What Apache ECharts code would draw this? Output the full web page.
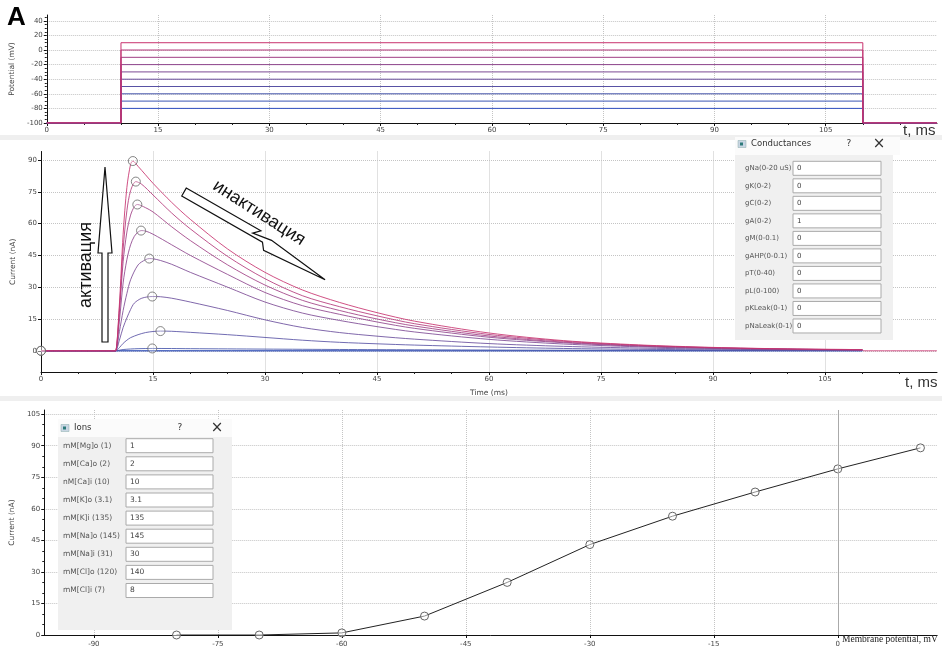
<!DOCTYPE html>
<html><head><meta charset="utf-8">
<script src="https://cdn.jsdelivr.net/npm/echarts@6/dist/echarts.min.js"></script>
<style>html,body{margin:0;padding:0;background:#fff}#c{width:942px;height:652px}</style>
</head><body><div id="c"></div>
<script>
// ---------------- DATA ----------------
const stepVoltages = [10, 0, -10, -20, -30, -40, -50, -60, -70, -80];
const holdingPotential = -100;
const stepOnMs = 10, stepOffMs = 110, endMs = 120;

const cur_p10 = [[0,0],[9.9,0],[10,0],[10.5,22],[11,55],[11.5,77],[12,88],[12.3,89.5],[13,87],[14,83],[15,79],[17.5,70],[20,62],[25,48],[30,37],[35,28.7],[40,22.8],[45,18],[50,14],[60,8.4],[70,4.8],[80,2.8],[90,1.6],[100,0.9],[110,0.5],[110.2,0],[120,0]];
const cur_0   = [[0,0],[9.9,0],[10,0],[10.5,20],[11,48],[11.5,66],[12,75.5],[12.7,79.8],[13.5,78.5],[15,73.5],[17.5,65],[20,57.5],[25,44.5],[30,34],[35,26],[40,20.8],[45,16.5],[50,12.8],[60,7.7],[70,4.5],[80,2.6],[90,1.5],[100,0.85],[110,0.45]];
const cur_m10 = [[0,0],[9.9,0],[10,0],[10.5,18],[11,42],[11.5,56],[12,64],[12.5,68],[12.9,69],[14,67.5],[15,65.5],[17.5,58.5],[20,52],[25,40.5],[30,31],[35,23.8],[40,19],[45,15],[50,11.7],[60,7],[70,4.1],[80,2.4],[90,1.4],[100,0.8],[110,0.45]];
const cur_m20 = [[0,0],[9.9,0],[10,0],[10.5,14],[11,32],[11.5,43],[12,50],[12.5,54],[13,56],[13.4,56.7],[14,56.5],[15,55],[17.5,50],[20,45],[25,36],[30,27.5],[35,21.3],[40,17.2],[45,13.6],[50,10.6],[60,6.4],[70,3.8],[80,2.2],[90,1.3],[100,0.75],[110,0.4]];
const cur_m30 = [[0,0],[9.9,0],[10,0],[10.5,9],[11,19],[11.5,27],[12,33.5],[13,40.5],[14,43],[14.5,43.5],[15,43.4],[16,42.6],[17.5,40.8],[20,37],[25,30],[30,23],[35,17.8],[40,14.3],[45,11.4],[50,8.9],[60,5.4],[70,3.2],[80,1.9],[90,1.1],[100,0.65],[110,0.35]];
const cur_m40 = [[0,0],[9.9,0],[10,0],[10.5,5],[11,11],[11.5,15.5],[12,19.5],[12.5,22.5],[13.5,24.8],[14.9,25.6],[16,25.5],[17.5,24.8],[20,23],[25,19],[30,14.6],[35,11],[40,8.6],[45,6.9],[50,5.5],[60,3.4],[70,2.1],[80,1.3],[90,0.8],[100,0.45],[110,0.25]];
const cur_m50 = [[0,0],[9.9,0],[10,0],[10.5,1.5],[11,3.5],[11.5,5],[12,6.2],[13,7.6],[14,8.6],[15,9.1],[16,9.3],[17.5,9.2],[20,8.7],[25,7.6],[30,6.3],[35,5],[40,4],[45,3.3],[50,2.7],[60,1.8],[70,1.1],[80,0.7],[90,0.45],[100,0.28],[110,0.18]];
const cur_m60 = [[0,0],[9.9,0],[10,0],[10.5,0.3],[11,0.6],[12,0.85],[13,1.0],[14.9,1.1],[17.5,1.07],[20,1.0],[25,0.9],[30,0.8],[40,0.62],[50,0.48],[60,0.36],[80,0.2],[100,0.12],[110,0.1]];
const cur_m70 = [[0,0],[110,0]];
const cur_m80 = [[0,0],[110,0]];
const currentTraces = [cur_p10, cur_0, cur_m10, cur_m20, cur_m30, cur_m40, cur_m50, cur_m60, cur_m70, cur_m80];

const peakTimes    = [12.3, 12.7, 12.9, 13.4, 14.5, 14.9, 16, 14.9, 0, 0];
const peakCurrents = [89.5, 79.8, 69, 56.7, 43.5, 25.6, 9.3, 1.1, 0, 0];

const ivVoltages = [-80, -70, -60, -50, -40, -30, -20, -10, 0, 10];
const ivCurrents = [0, 0, 1, 9, 25, 43, 56.5, 68, 79, 89];

const timeTicks   = [0, 15, 30, 45, 60, 75, 90, 105];
const potTicks    = [-100, -80, -60, -40, -20, 0, 20, 40];
const currTicks   = [0, 15, 30, 45, 60, 75, 90];
const ivCurrTicks = [0, 15, 30, 45, 60, 75, 90, 105];
const ivVoltTicks = [-90, -75, -60, -45, -30, -15, 0];

const condLabels = ['gNa(0-20 uS)', 'gK(0-2)', 'gC(0-2)', 'gA(0-2)', 'gM(0-0.1)', 'gAHP(0-0.1)', 'pT(0-40)', 'pL(0-100)', 'pKLeak(0-1)', 'pNaLeak(0-1)'];
const condValues = ['0', '0', '0', '1', '0', '0', '0', '0', '0', '0'];
const ionLabels = ['mM[Mg]o (1)', 'mM[Ca]o (2)', 'nM[Ca]i (10)', 'mM[K]o (3.1)', 'mM[K]i (135)', 'mM[Na]o (145)', 'mM[Na]i (31)', 'mM[Cl]o (120)', 'mM[Cl]i (7)'];
const ionValues = ['1', '2', '10', '3.1', '135', '145', '30', '140', '8'];

const traceColors = ['#c8326e', '#b4387a', '#a03e84', '#8e448c', '#7c4a94', '#6a4e9c', '#5852a4', '#4656ac', '#3a56b4', '#2e4ec0'];

// ---------------- CHART ----------------
const chart = echarts.init(document.getElementById('c'), null, {renderer: 'canvas'});
const FONT = 'DejaVu Sans';
const lblStyle = {fontSize: 7, color: '#444', fontFamily: FONT};

function axis(o) {
  const a = {
    type: 'value', gridIndex: o.grid, min: o.min, max: o.max,
    axisLine: {show: true, onZero: false, lineStyle: {color: '#111', width: 1}},
    axisTick: {show: true, inside: false, length: 3, customValues: o.ticks, lineStyle: {color: '#111'}},
    axisLabel: Object.assign({show: true, margin: o.margin || 4, customValues: o.ticks}, lblStyle),
    splitLine: {show: true, lineStyle: {type: 'dotted', color: '#c4c4c4', width: 1}},
    name: o.name || '', nameLocation: 'middle', nameGap: o.nameGap || 20,
    nameTextStyle: {fontSize: 7.5, color: '#444', fontFamily: FONT},
    silent: true
  };
  if (o.interval) {
    a.interval = o.interval;
    a.minorTick = {show: true, splitNumber: o.minorSplit, length: 2, lineStyle: {color: '#222'}};
  }
  return a;
}

const series = [];
for (let i = stepVoltages.length - 1; i >= 0; i--) {
  const V = stepVoltages[i];
  series.push({
    type: 'line', xAxisIndex: 0, yAxisIndex: 0, symbol: 'none', silent: true,
    lineStyle: {color: traceColors[i], width: 1},
    data: [[0, holdingPotential], [stepOnMs, holdingPotential], [stepOnMs, V], [stepOffMs, V], [stepOffMs, holdingPotential], [endMs, holdingPotential]]
  });
}
for (let i = currentTraces.length - 1; i >= 0; i--) {
  series.push({
    type: 'line', xAxisIndex: 1, yAxisIndex: 1, symbol: 'none', silent: true,
    smooth: 0.3,
    lineStyle: {color: traceColors[i], width: 1, opacity: 0.85},
    data: currentTraces[i]
  });
}
series.push({
  type: 'scatter', xAxisIndex: 1, yAxisIndex: 1, symbol: 'circle', symbolSize: 9, silent: true,
  itemStyle: {color: 'rgba(255,255,255,0.35)', borderColor: '#666', borderWidth: 1},
  data: peakTimes.map((t, i) => [t, peakCurrents[i]]), z: 5
});
series.push({
  type: 'line', xAxisIndex: 2, yAxisIndex: 2, symbol: 'circle', symbolSize: 8, silent: true,
  lineStyle: {color: '#222', width: 1}, itemStyle: {color: 'rgba(255,255,255,0.5)', borderColor: '#666', borderWidth: 1},
  data: ivVoltages.map((v, i) => [v, ivCurrents[i]]),
  markLine: {silent: true, symbol: 'none', label: {show: false}, lineStyle: {color: '#aaa', type: 'solid', width: 1}, data: [{xAxis: 0}]}
});

// ---------------- OVERLAYS ----------------
const graphics = [];
graphics.push({type: 'rect', shape: {x: 0, y: 135, width: 942, height: 5}, style: {fill: '#efefef'}, z: 1, silent: true});
graphics.push({type: 'rect', shape: {x: 0, y: 396, width: 942, height: 5}, style: {fill: '#efefef'}, z: 1, silent: true});
graphics.push({type: 'text', x: 7, y: 5, style: {text: 'A', font: 'bold 26px "Liberation Sans"', fill: '#000'}, z: 10});
graphics.push({type: 'text', x: 903, y: 131, style: {text: 't, ms', font: '15px "Liberation Sans"', fill: '#333', verticalAlign: 'middle'}, z: 10});
graphics.push({type: 'text', x: 905, y: 383, style: {text: 't, ms', font: '15px "Liberation Sans"', fill: '#333', verticalAlign: 'middle'}, z: 10});
graphics.push({type: 'text', x: 842, y: 639, style: {text: 'Membrane potential, mV', font: '9.5px "Liberation Serif"', fill: '#222', verticalAlign: 'middle'}, z: 10});

graphics.push({type: 'polygon', shape: {points: [[102,342],[108,342],[108,253],[112,253],[105,167],[98,253],[102,253]]},
  style: {fill: '#fff', stroke: '#111', lineWidth: 1.2}, z: 10});
graphics.push({type: 'text', x: 86, y: 265, rotation: Math.PI / 2,
  style: {text: 'активация', font: '18px "Liberation Sans"', fill: '#111', align: 'center', verticalAlign: 'middle'}, z: 10});

(function () {
  const ox = 184, oy = 192, th = 0.52, c = Math.cos(th), s = Math.sin(th);
  const local = [[0,-4.5],[86,-4.5],[80,1.5],[100,-1.5],[166,6],[98,11],[93,4.5],[0,4.5]];
  const pts = local.map(([u, v]) => [ox + u * c - v * s, oy + u * s + v * c]);
  graphics.push({type: 'polygon', shape: {points: pts}, style: {fill: '#fff', stroke: '#111', lineWidth: 1.2}, z: 10});
})();
graphics.push({type: 'text', x: 259, y: 213, rotation: -0.57,
  style: {text: 'инактивация', font: '18px "Liberation Sans"', fill: '#111', align: 'center', verticalAlign: 'middle'}, z: 10});

function dialog(o) {
  graphics.push({type: 'rect', shape: {x: o.x, y: o.ty, width: o.w, height: o.by - o.ty}, style: {fill: '#fbfbfb'}, z: 20});
  graphics.push({type: 'rect', shape: {x: o.x + 3, y: o.tc - 3.5, width: 8, height: 7}, style: {fill: '#c9d6e3', stroke: '#8aa', lineWidth: 0.5}, z: 21});
  graphics.push({type: 'rect', shape: {x: o.x + 5, y: o.tc - 1.5, width: 3, height: 3}, style: {fill: '#2d7a7a'}, z: 22});
  graphics.push({type: 'text', x: o.x + 16, y: o.tc, style: {text: o.title, font: '8.5px "DejaVu Sans"', fill: '#333', verticalAlign: 'middle'}, z: 21});
  graphics.push({type: 'text', x: o.qx, y: o.tc, style: {text: '?', font: '9px "DejaVu Sans"', fill: '#333', align: 'center', verticalAlign: 'middle'}, z: 21});
  graphics.push({type: 'text', x: o.cx, y: o.tc, style: {text: '×', font: '15px "DejaVu Sans"', fill: '#333', align: 'center', verticalAlign: 'middle'}, z: 21});
  graphics.push({type: 'rect', shape: {x: o.x, y: o.by, width: o.bw, height: o.bh}, style: {fill: '#f0f0f0'}, z: 20});
  o.labels.forEach((l, i) => {
    const cy = o.row0 + o.dy * i;
    graphics.push({type: 'text', x: o.lx, y: cy, style: {text: l, font: o.lf + 'px "DejaVu Sans"', fill: '#555', verticalAlign: 'middle'}, z: 21});
    graphics.push({type: 'rect', shape: {x: o.bx, y: cy - 7, width: o.boxW, height: 14}, style: {fill: '#fff', stroke: '#aaa', lineWidth: 1}, z: 21});
    graphics.push({type: 'text', x: o.bx + 4, y: cy, style: {text: o.values[i], font: o.lf + 'px "DejaVu Sans"', fill: '#444', verticalAlign: 'middle'}, z: 22});
  });
}
dialog({x: 735, ty: 137, by: 155, w: 165, tc: 144, title: 'Conductances', qx: 849, cx: 879,
  bw: 158, bh: 185, labels: condLabels, values: condValues, row0: 168.3, dy: 17.52, lx: 745, bx: 793, boxW: 88, lf: 7});
dialog({x: 58, ty: 419, by: 437, w: 174, tc: 428, title: 'Ions', qx: 180, cx: 217,
  bw: 174, bh: 193, labels: ionLabels, values: ionValues, row0: 445.7, dy: 18.1, lx: 63, bx: 126, boxW: 87, lf: 7.5});

chart.setOption({
  backgroundColor: '#fff',
  animation: false,
  grid: [
    {left: 41, top: 15, width: 896, height: 108},
    {left: 41, top: 151.5, width: 896, height: 220.5},
    {left: 43, top: 410, width: 894, height: 225}
  ],
  xAxis: [
    axis({grid: 0, min: 0, max: endMs, interval: 15, minorSplit: 3, ticks: timeTicks}),
    axis({grid: 1, min: 0, max: endMs, interval: 15, minorSplit: 3, ticks: timeTicks, name: 'Time (ms)', nameGap: 17}),
    axis({grid: 2, min: -96, max: 12, ticks: ivVoltTicks, margin: 6})
  ],
  yAxis: [
    axis({grid: 0, min: -100, max: 48, interval: 20, minorSplit: 4, ticks: potTicks, name: 'Potential (mV)', nameGap: 23}),
    axis({grid: 1, min: -10, max: 94, ticks: currTicks, name: 'Current (nA)', nameGap: 21}),
    axis({grid: 2, min: 0, max: 107, interval: 15, minorSplit: 3, ticks: ivCurrTicks, name: 'Current (nA)', nameGap: 23})
  ],
  series: series,
  graphic: graphics
});
</script>
</body></html>
